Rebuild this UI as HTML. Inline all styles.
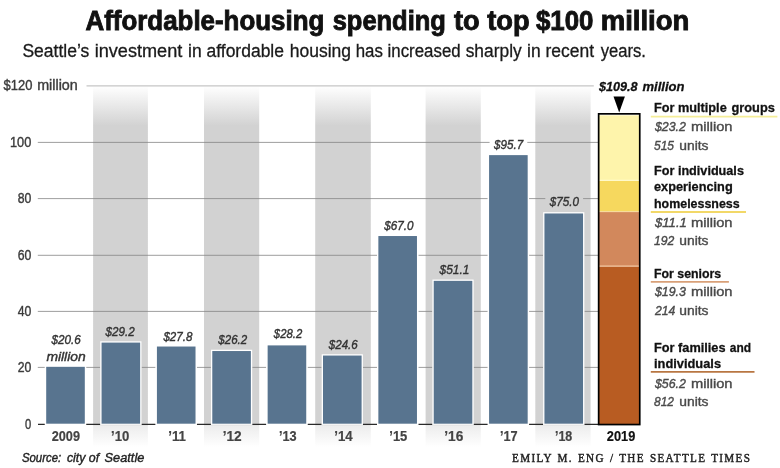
<!DOCTYPE html>
<html lang="en">
<head>
<meta charset="utf-8">
<title>Affordable-housing spending to top $100 million</title>
<style>
html,body{margin:0;padding:0;background:#fff;}
body{width:780px;height:468px;overflow:hidden;font-family:"Liberation Sans",sans-serif;}
svg{display:block;}
text{font-family:"Liberation Sans",sans-serif;}
.t{font-weight:bold;fill:#111;stroke:#111;stroke-width:0.9px;font-size:27.3px;}
.s{fill:#1a1a1a;font-size:18px;stroke:#1a1a1a;stroke-width:0.3px;}
.ax{fill:#3c3c3c;font-size:14px;stroke:#3c3c3c;stroke-width:0.4px;}
.yr{fill:#444;font-size:14.4px;font-weight:bold;stroke:#444;stroke-width:0.2px;}
.yk{fill:#111;font-size:14.4px;font-weight:bold;stroke:#111;stroke-width:0.2px;}
.vl{fill:#333;font-size:13.1px;font-style:italic;stroke:#333;stroke-width:0.4px;}
.src{fill:#222;font-size:13.2px;font-style:italic;stroke:#222;stroke-width:0.4px;}
.lh{fill:#111;font-size:13.4px;font-weight:bold;stroke:#111;stroke-width:0.3px;}
.lhi{fill:#111;font-size:13.6px;font-weight:bold;font-style:italic;stroke:#111;stroke-width:0.3px;}
.ld{fill:#4a4a4a;font-size:13.5px;stroke:#4a4a4a;stroke-width:0.4px;}
.ldi{fill:#4a4a4a;font-size:13.5px;font-style:italic;stroke:#4a4a4a;stroke-width:0.4px;}
.cr{font-family:"Liberation Serif",serif;fill:#222;font-size:12.4px;letter-spacing:1.5px;word-spacing:1px;stroke:#222;stroke-width:0.45px;}
</style>
</head>
<body>
<svg width="780" height="468" viewBox="0 0 780 468">
<defs>
<linearGradient id="bg" gradientUnits="userSpaceOnUse" x1="0" y1="86" x2="0" y2="447">
<stop offset="0" stop-color="#ffffff"/>
<stop offset="0.11" stop-color="#d2d2d2"/>
<stop offset="0.936" stop-color="#d2d2d2"/>
<stop offset="0.942" stop-color="#ededed"/>
<stop offset="0.975" stop-color="#f7f7f7"/>
<stop offset="1" stop-color="#ffffff"/>
</linearGradient>
</defs>
<rect x="0" y="0" width="780" height="468" fill="#ffffff"/>

<g id="bands">
<rect x="93.1" y="86" width="54.8" height="361" fill="url(#bg)"/>
<rect x="204.0" y="86" width="55.2" height="361" fill="url(#bg)"/>
<rect x="315.2" y="86" width="55.6" height="361" fill="url(#bg)"/>
<rect x="425.6" y="86" width="55.2" height="361" fill="url(#bg)"/>
<rect x="535.3" y="86" width="55.3" height="361" fill="url(#bg)"/>
</g>
<g id="grid" fill="none">
<path d="M86.5 85.9H593.8" stroke="#c6c6c6" stroke-width="1.3"/>
<path d="M37.8 142.4H489.6 M527.3 142.4H598.0" stroke="#858585" stroke-width="0.8"/>
<path d="M37.8 198.6H487.7 M529.1 198.6H545.3 M583.1 198.6H598.0" stroke="#858585" stroke-width="0.8"/>
<path d="M37.8 255.3H377.0 M418.4 255.3H487.7 M529.1 255.3H543.0 M584.4 255.3H598.0" stroke="#858585" stroke-width="0.8"/>
<path d="M37.8 311.4H377.0 M418.4 311.4H432.3 M473.7 311.4H487.7 M529.1 311.4H543.0 M584.4 311.4H598.0" stroke="#858585" stroke-width="0.8"/>
<path d="M37.8 367.4H44.8 M86.2 367.4H100.2 M141.6 367.4H155.5 M196.9 367.4H210.9 M252.3 367.4H266.2 M307.6 367.4H321.6 M363.0 367.4H377.0 M418.4 367.4H432.3 M473.7 367.4H487.7 M529.1 367.4H543.0 M584.4 367.4H598.0" stroke="#858585" stroke-width="0.8"/>
<path d="M38.0 424.4H44.8 M86.2 424.4H100.2 M141.6 424.4H155.5 M196.9 424.4H210.9 M252.3 424.4H266.2 M307.6 424.4H321.6 M363.0 424.4H377.0 M418.4 424.4H432.3 M473.7 424.4H487.7 M529.1 424.4H543.0 M584.4 424.4H598.0" stroke="#2a2a2a" stroke-width="1.1"/>
</g>
<g id="bars">
<rect x="44.90" y="365.53" width="41.20" height="59.17" fill="#fff"/>
<rect x="46.20" y="366.83" width="38.60" height="56.87" fill="#58748f"/>
<rect x="100.26" y="341.29" width="41.20" height="83.41" fill="#fff"/>
<rect x="101.56" y="342.59" width="38.60" height="81.11" fill="#58748f"/>
<rect x="155.62" y="345.23" width="41.20" height="79.47" fill="#fff"/>
<rect x="156.92" y="346.53" width="38.60" height="77.17" fill="#58748f"/>
<rect x="210.98" y="349.74" width="41.20" height="74.96" fill="#fff"/>
<rect x="212.28" y="351.04" width="38.60" height="72.66" fill="#58748f"/>
<rect x="266.34" y="344.10" width="41.20" height="80.60" fill="#fff"/>
<rect x="267.64" y="345.40" width="38.60" height="78.30" fill="#58748f"/>
<rect x="321.70" y="354.25" width="41.20" height="70.45" fill="#fff"/>
<rect x="323.00" y="355.55" width="38.60" height="68.15" fill="#58748f"/>
<rect x="377.06" y="234.73" width="41.20" height="189.97" fill="#fff"/>
<rect x="378.36" y="236.03" width="38.60" height="187.67" fill="#58748f"/>
<rect x="432.42" y="279.55" width="41.20" height="145.15" fill="#fff"/>
<rect x="433.72" y="280.85" width="38.60" height="142.85" fill="#58748f"/>
<rect x="487.78" y="153.82" width="41.20" height="270.88" fill="#fff"/>
<rect x="489.08" y="155.12" width="38.60" height="268.58" fill="#58748f"/>
<rect x="543.14" y="212.17" width="41.20" height="212.53" fill="#fff"/>
<rect x="544.44" y="213.47" width="38.60" height="210.22" fill="#58748f"/>
</g>
<g id="bar2019">
<rect x="599" y="266.47" width="41" height="158.43" fill="#b85c22"/>
<rect x="599" y="212.07" width="41" height="54.41" fill="#d2885c"/>
<rect x="599" y="180.77" width="41" height="31.29" fill="#f6d85e"/>
<rect x="599" y="115.37" width="41" height="65.40" fill="#fef4ab"/>
<line x1="599" x2="640" y1="265.97" y2="265.97" stroke="#f6caa2" stroke-width="1.1"/>
<line x1="599" x2="640" y1="211.57" y2="211.57" stroke="#f7dc9c" stroke-width="1.1"/>
<line x1="599" x2="640" y1="180.27" y2="180.27" stroke="#fffbd0" stroke-width="1.1"/>
<rect x="598.65" y="113.85" width="41.1" height="310.7" fill="none" stroke="#000" stroke-width="1.7"/>
<polygon points="613.5,96.6 624.9,96.6 619.2,112.6" fill="#000"/>
</g>
<g id="rules" fill="none" stroke-width="1.8">
<path d="M650.8 116.7H777.4" stroke="#f5ee98"/>
<path d="M650.8 212H746" stroke="#f2d868"/>
<path d="M650.8 281.9H728.9" stroke="#d9a078"/>
<path d="M650.8 371.9H754.5" stroke="#b87642"/>
</g>
<g id="labels">
<text class="t" x="85.50" y="29.7" textLength="238.79" lengthAdjust="spacingAndGlyphs">Affordable-housing</text>
<text class="t" x="332.70" y="29.7" textLength="113.16" lengthAdjust="spacingAndGlyphs">spending</text>
<text class="t" x="454.00" y="29.7" textLength="75.67" lengthAdjust="spacingAndGlyphs">to top</text>
<text class="t" x="536.00" y="29.7" textLength="57.47" lengthAdjust="spacingAndGlyphs">$100</text>
<text class="t" x="600.69" y="29.7" textLength="88.70" lengthAdjust="spacingAndGlyphs">million</text>
<text class="s" x="22.40" y="57.1" textLength="66.90" lengthAdjust="spacingAndGlyphs">Seattle’s</text>
<text class="s" x="94.69" y="57.1" textLength="87.61" lengthAdjust="spacingAndGlyphs">investment</text>
<text class="s" x="188.03" y="57.1" textLength="95.98" lengthAdjust="spacingAndGlyphs">in affordable</text>
<text class="s" x="289.73" y="57.1" textLength="61.25" lengthAdjust="spacingAndGlyphs">housing</text>
<text class="s" x="355.76" y="57.1" textLength="104.88" lengthAdjust="spacingAndGlyphs">has increased</text>
<text class="s" x="465.70" y="57.1" textLength="56.00" lengthAdjust="spacingAndGlyphs">sharply</text>
<text class="s" x="527.03" y="57.1" textLength="66.97" lengthAdjust="spacingAndGlyphs">in recent</text>
<text class="s" x="600.70" y="57.1" textLength="45.22" lengthAdjust="spacingAndGlyphs">years.</text>
<text class="ax" x="3.60" y="90.4" textLength="28.80" lengthAdjust="spacingAndGlyphs">$120</text>
<text class="ax" x="37.20" y="90.4" textLength="40.60" lengthAdjust="spacingAndGlyphs">million</text>
<text class="ax" x="9.99" y="146.8" textLength="21.32" lengthAdjust="spacingAndGlyphs">100</text>
<text class="ax" x="17.70" y="203.0" textLength="13.61" lengthAdjust="spacingAndGlyphs">80</text>
<text class="ax" x="17.70" y="259.8" textLength="13.61" lengthAdjust="spacingAndGlyphs">60</text>
<text class="ax" x="17.70" y="315.8" textLength="13.61" lengthAdjust="spacingAndGlyphs">40</text>
<text class="ax" x="17.70" y="371.8" textLength="13.61" lengthAdjust="spacingAndGlyphs">20</text>
<text class="ax" x="25.10" y="428.8" textLength="6.23" lengthAdjust="spacingAndGlyphs">0</text>
<text class="yr" x="51.70" y="441.0" textLength="28.30" lengthAdjust="spacingAndGlyphs">2009</text>
<text class="yr" x="111.00" y="441.0" textLength="18.30" lengthAdjust="spacingAndGlyphs">’10</text>
<text class="yr" x="168.30" y="441.0" textLength="17.70" lengthAdjust="spacingAndGlyphs">’11</text>
<text class="yr" x="222.70" y="441.0" textLength="19.00" lengthAdjust="spacingAndGlyphs">’12</text>
<text class="yr" x="279.00" y="441.0" textLength="17.70" lengthAdjust="spacingAndGlyphs">’13</text>
<text class="yr" x="334.30" y="441.0" textLength="18.40" lengthAdjust="spacingAndGlyphs">’14</text>
<text class="yr" x="389.30" y="441.0" textLength="18.00" lengthAdjust="spacingAndGlyphs">’15</text>
<text class="yr" x="444.30" y="441.0" textLength="19.00" lengthAdjust="spacingAndGlyphs">’16</text>
<text class="yr" x="500.00" y="441.0" textLength="17.70" lengthAdjust="spacingAndGlyphs">’17</text>
<text class="yr" x="555.00" y="441.0" textLength="17.30" lengthAdjust="spacingAndGlyphs">’18</text>
<text class="yk" x="606.80" y="440.8" textLength="28.50" lengthAdjust="spacingAndGlyphs">2019</text>
<text class="vl" x="51.39" y="344.2" textLength="29.27" lengthAdjust="spacingAndGlyphs">$20.6</text>
<text class="vl" x="46.40" y="360.7" textLength="39.30" lengthAdjust="spacingAndGlyphs">million</text>
<text class="vl" x="105.59" y="336.3" textLength="29.08" lengthAdjust="spacingAndGlyphs">$29.2</text>
<text class="vl" x="163.38" y="340.5" textLength="28.98" lengthAdjust="spacingAndGlyphs">$27.8</text>
<text class="vl" x="218.28" y="344.4" textLength="28.98" lengthAdjust="spacingAndGlyphs">$26.2</text>
<text class="vl" x="273.86" y="338.3" textLength="28.32" lengthAdjust="spacingAndGlyphs">$28.2</text>
<text class="vl" x="328.78" y="349.0" textLength="28.98" lengthAdjust="spacingAndGlyphs">$24.6</text>
<text class="vl" x="384.19" y="230.1" textLength="29.27" lengthAdjust="spacingAndGlyphs">$67.0</text>
<text class="vl" x="439.61" y="273.6" textLength="29.75" lengthAdjust="spacingAndGlyphs">$51.1</text>
<text class="vl" x="493.99" y="149.2" textLength="29.17" lengthAdjust="spacingAndGlyphs">$95.7</text>
<text class="vl" x="549.69" y="206.4" textLength="29.27" lengthAdjust="spacingAndGlyphs">$75.0</text>
<text class="lhi" x="598.93" y="91.2" textLength="38.66" lengthAdjust="spacingAndGlyphs">$109.8</text>
<text class="lhi" x="642.50" y="91.2" textLength="41.99" lengthAdjust="spacingAndGlyphs">million</text>
<text class="lh" x="654.00" y="112.2" textLength="72.72" lengthAdjust="spacingAndGlyphs">For multiple</text>
<text class="lh" x="731.50" y="112.2" textLength="43.33" lengthAdjust="spacingAndGlyphs">groups</text>
<text class="lh" x="654.00" y="175.0" textLength="89.92" lengthAdjust="spacingAndGlyphs">For individuals</text>
<text class="lh" x="654.00" y="191.3" textLength="78.67" lengthAdjust="spacingAndGlyphs">experiencing</text>
<text class="lh" x="654.00" y="207.8" textLength="85.61" lengthAdjust="spacingAndGlyphs">homelessness</text>
<text class="lh" x="654.00" y="277.5" textLength="67.21" lengthAdjust="spacingAndGlyphs">For seniors</text>
<text class="lh" x="654.00" y="352.2" textLength="71.53" lengthAdjust="spacingAndGlyphs">For families</text>
<text class="lh" x="729.80" y="352.2" textLength="21.26" lengthAdjust="spacingAndGlyphs">and</text>
<text class="lh" x="654.00" y="368.2" textLength="67.03" lengthAdjust="spacingAndGlyphs">individuals</text>
<text class="ldi" x="654.92" y="130.8" textLength="31.03" lengthAdjust="spacingAndGlyphs">$23.2</text>
<text class="ld" x="690.90" y="130.8" textLength="41.65" lengthAdjust="spacingAndGlyphs">million</text>
<text class="ldi" x="654.00" y="149.5" textLength="19.96" lengthAdjust="spacingAndGlyphs">515</text>
<text class="ld" x="679.30" y="149.5" textLength="29.24" lengthAdjust="spacingAndGlyphs">units</text>
<text class="ldi" x="654.97" y="227.3" textLength="31.92" lengthAdjust="spacingAndGlyphs">$11.1</text>
<text class="ld" x="690.90" y="227.3" textLength="41.65" lengthAdjust="spacingAndGlyphs">million</text>
<text class="ldi" x="654.00" y="245.2" textLength="20.36" lengthAdjust="spacingAndGlyphs">192</text>
<text class="ld" x="679.30" y="245.2" textLength="29.24" lengthAdjust="spacingAndGlyphs">units</text>
<text class="ldi" x="654.92" y="296.4" textLength="31.03" lengthAdjust="spacingAndGlyphs">$19.3</text>
<text class="ld" x="690.90" y="296.4" textLength="41.65" lengthAdjust="spacingAndGlyphs">million</text>
<text class="ldi" x="654.90" y="314.5" textLength="20.36" lengthAdjust="spacingAndGlyphs">214</text>
<text class="ld" x="679.30" y="314.5" textLength="29.24" lengthAdjust="spacingAndGlyphs">units</text>
<text class="ldi" x="654.92" y="387.6" textLength="31.03" lengthAdjust="spacingAndGlyphs">$56.2</text>
<text class="ld" x="690.90" y="387.6" textLength="41.65" lengthAdjust="spacingAndGlyphs">million</text>
<text class="ldi" x="654.00" y="405.9" textLength="19.96" lengthAdjust="spacingAndGlyphs">812</text>
<text class="ld" x="679.30" y="405.9" textLength="29.24" lengthAdjust="spacingAndGlyphs">units</text>
<text class="src" x="21.90" y="462.3" textLength="39.31" lengthAdjust="spacingAndGlyphs">Source:</text>
<text class="src" x="66.90" y="462.3" textLength="32.25" lengthAdjust="spacingAndGlyphs">city of</text>
<text class="src" x="104.60" y="462.3" textLength="39.72" lengthAdjust="spacingAndGlyphs">Seattle</text>
<text class="cr" x="512.1" y="462.4" textLength="239.2" lengthAdjust="spacingAndGlyphs">EMILY M. ENG / THE SEATTLE TIMES</text>
</g>
</svg>
</body>
</html>
